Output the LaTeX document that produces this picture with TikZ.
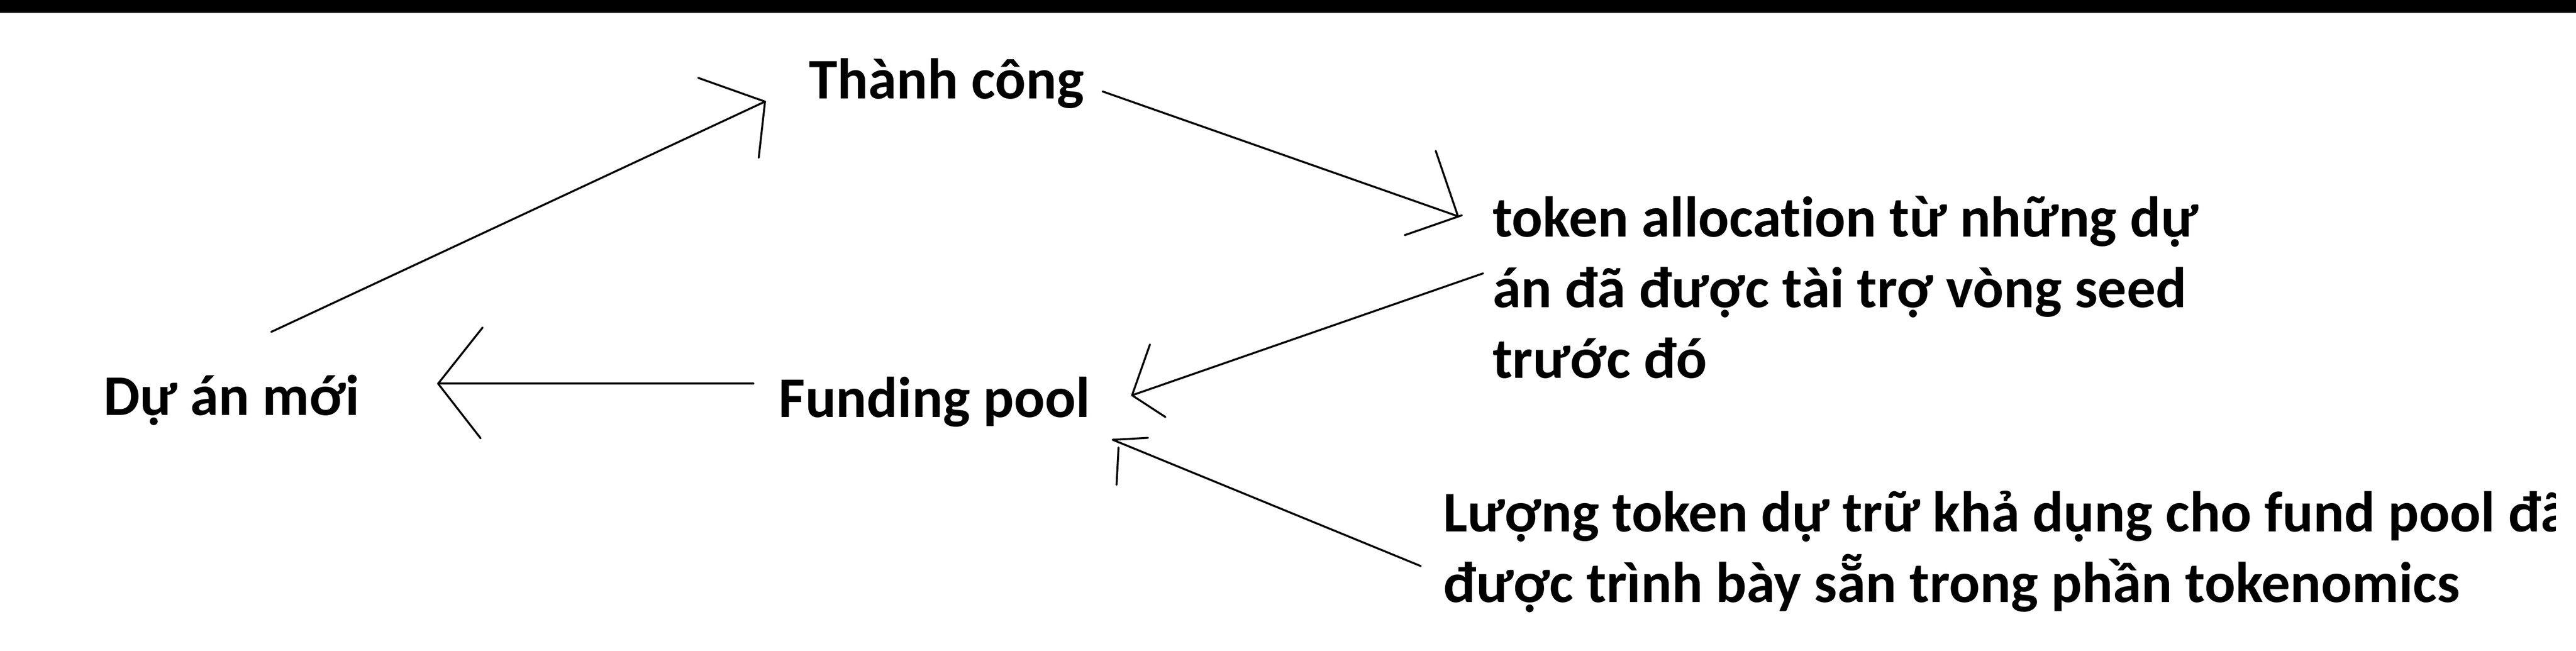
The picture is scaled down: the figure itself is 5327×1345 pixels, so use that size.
\documentclass[tikz,border=0pt]{standalone}
\usepackage{fontspec}
\setmainfont[Ligatures=NoCommon]{Carlito}
\usetikzlibrary{calc}

\begin{document}
\begin{tikzpicture}[x=0.01cm, y=-0.01cm,
	txt/.style={font=\bfseries\fontsize{33.8}{41.5}\selectfont, anchor=base west, inner sep=0pt, align=left},
	hand/.style={line width=1.15pt, line cap=round, line join=round}]
	\useasboundingbox (0,0) rectangle (5327,1345);
	\fill (0,0) rectangle (5327,27);
	
	\node [txt] (du-an) at (214,858) {Dự án mới};
	\node [txt] (thanh-cong) at (1672,204) {Thành công};
	\node [txt] (funding) at (1610,862) {Funding pool};
	% base of a node with several lines is its last line
	\node [txt] (token) at (3086,781) {token allocation từ những dự\\án đã được tài trợ vòng seed\\trước đó};
	\begin{scope}
		\clip (0,0) rectangle (5285,1345);
		\node [txt] (luong) at (2984,1245) {Lượng token dự trữ khả dụng cho fund pool đã\\được trình bày sẵn trong phần tokenomics};
	\end{scope}
	
	% du an moi -> thanh cong
	\coordinate (a1s) at (561,686);
	\coordinate (a1t) at (1582,210);
	\draw [hand] (a1s) -- (a1t);
	\draw [hand] (1444,161) -- (a1t) -- (1569,326);
	
	% thanh cong -> token allocation
	\coordinate (a2s) at (2280,189);
	\coordinate (a2t) at (3015,447);
	\draw [hand] (a2s) -- (a2t);
	\draw [hand] (2969,312) -- (a2t);
	\draw [hand] (2905,486) -- (3023,445);
	
	% token allocation -> funding pool
	\coordinate (a3s) at (3067,565);
	\coordinate (a3t) at (2341,817);
	\draw [hand] (a3s) -- (a3t);
	\draw [hand] (2378,712) -- (a3t) -- (2410,862);
	
	% luong token -> funding pool
	\coordinate (a4s) at (2938,1170);
	\coordinate (a4t) at (2301,909);
	\draw [hand] (a4s) -- (a4t) -- (2374,905);
	\draw [hand] (2313,925) -- (2309,1002);
	
	% funding pool -> du an moi
	\coordinate (a5s) at (1558,793);
	\coordinate (a5t) at (906,793);
	\draw [hand] (a5s) -- (a5t);
	\draw [hand] (998,677) -- (a5t) -- (994,906);
\end{tikzpicture}
\end{document}
